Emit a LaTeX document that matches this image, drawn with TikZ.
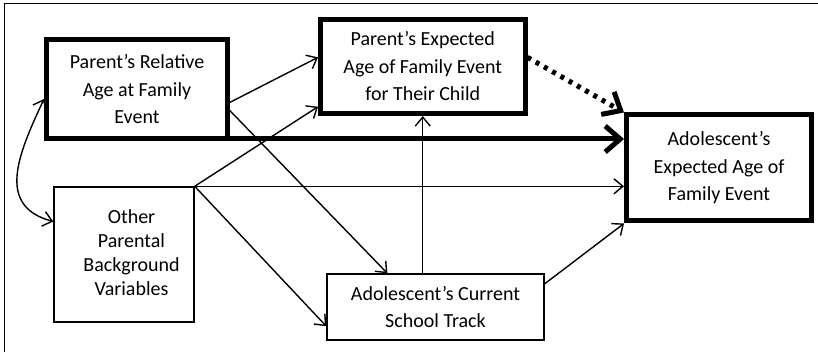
\documentclass[tikz,border=0pt]{standalone}
\usepackage{fontspec}
\setmainfont{Carlito}
\usetikzlibrary{arrows.meta,calc}
\tikzset{
  thickbox/.style={draw=black, line width=5pt, rectangle, align=center, inner sep=0pt,
    font=\fontsize{20pt}{27.5pt}\selectfont},
  thinbox/.style={draw=black, line width=1.4pt, rectangle, align=center, inner sep=0pt,
    font=\fontsize{20pt}{27pt}\selectfont},
  thinarrow/.style={line width=1.4pt, -{Straight Barb[length=9pt,width=15pt]}},
  thinarrows/.style={line width=1.4pt, {Straight Barb[length=9pt,width=15pt]}-{Straight Barb[length=9pt,width=15pt]}},
  bigarrow/.style={line width=5pt, -{Straight Barb[length=15pt,width=26pt]}},
  dotarrow/.style={line width=5pt, dash pattern=on 4pt off 5.5pt, -{Straight Barb[length=15pt,width=26pt]}},
}
\begin{document}
\begin{tikzpicture}[x=1pt,y=-1pt]
\useasboundingbox (0,0) rectangle (818,352);
% outer frame (left and top edges visible)
\draw[line width=1.4pt] (4.5,360) -- (4.5,3.5) -- (830,3.5);

\node[thickbox, minimum width=181pt, minimum height=99.5pt] (A) at (137,89.25)
  {Parent’s Relative\\Age at Family\\Event};
\node[thickbox, minimum width=204.5pt, minimum height=94pt] (B) at (422.75,66.5)
  {Parent’s Expected\\Age of Family Event\\for Their Child};
\node[thickbox, minimum width=185pt, minimum height=106pt] (C) at (719,168)
  {Adolescent’s\\Expected Age of\\Family Event};
\node[thinbox, minimum width=140pt, minimum height=135pt] (D) at (124,254.5) {};
\node[align=center, inner sep=0pt, font=\fontsize{20pt}{24pt}\selectfont] (Dt) at (131.5,252.5)
  {Other\\Parental\\Background\\Variables};
\node[thinbox, minimum width=217pt, minimum height=66pt] (E) at (435.5,307)
  {Adolescent’s Current\\School Track};

% connectors
\draw[thinarrows] (A.186) to[out=245, in=165, looseness=1.25] (D.155);
\draw[thinarrow] (A.352) -- (B.175);
\draw[thinarrow] (A.347) -- (E.145);
\coordinate (t1) at ([xshift=-2.5pt,yshift=2.5pt]A.south east);
\draw[bigarrow] (t1) -- (t1 -| C.west);
\draw[thinarrow] (D.north east) -- (B.201);
\draw[thinarrow] (D.north east) -- (D.north east -| C.west);
\draw[thinarrow] (D.north east) -- (E.190);
\draw[thinarrow] (B.south |- E.north) -- (B.south);
\draw[thinarrow] (E.12) -- (C.south west);
\draw[dotarrow] (B.5) -- (C.north west);
\end{tikzpicture}
\end{document}
